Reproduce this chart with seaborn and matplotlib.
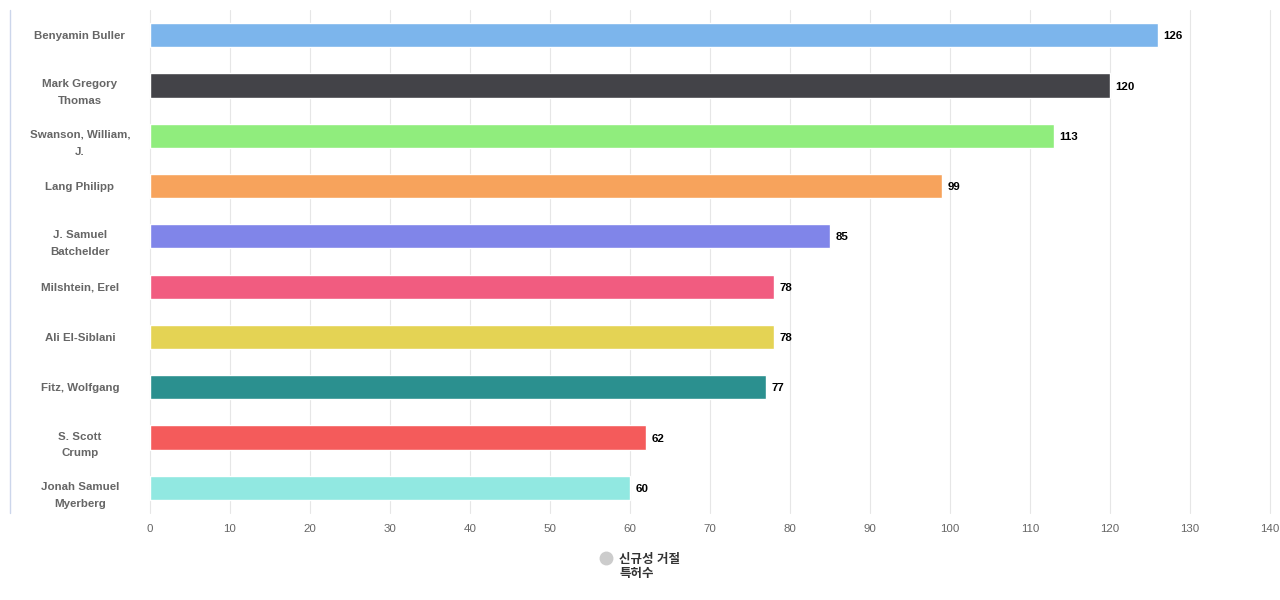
import matplotlib
matplotlib.use("Agg")
import matplotlib.pyplot as plt
import matplotlib.transforms as mtrans
import seaborn as sns
import pandas as pd
from matplotlib.lines import Line2D

names = ["Benyamin Buller", "Mark Gregory\nThomas", "Swanson, William,\nJ.", "Lang Philipp",
         "J. Samuel\nBatchelder", "Milshtein, Erel", "Ali El-Siblani", "Fitz, Wolfgang",
         "S. Scott\nCrump", "Jonah Samuel\nMyerberg"]
values = [126, 120, 113, 99, 85, 78, 78, 77, 62, 60]
colors = ["#7cb5ec", "#434348", "#90ed7d", "#f7a35c", "#8085e9", "#f15c80", "#e4d354",
          "#2b908f", "#f45b5b", "#91e8e1"]
xticks = list(range(0, 141, 10))
legend_label = "신규성 거절\n특허수"

sns.set_style("white")
plt.rcParams['font.family'] = ['Liberation Sans', 'Noto Sans CJK KR', 'DejaVu Sans']

df = pd.DataFrame({"name": names, "value": values})
fig = plt.figure(figsize=(12.8, 6.0), dpi=100)
ax = fig.add_axes([150/1280, 1 - 513/600, 1120/1280, 503/600])

sns.barplot(data=df, y="name", x="value", hue="name", palette=colors, orient="h",
            width=0.48, legend=False, ax=ax, saturation=1)

ax.set_xlim(0, 140)
ax.set_ylim(9.5, -0.5)
ax.set_xticks(xticks)
ax.set_xticklabels([str(t) for t in xticks])
ax.grid(axis="x", color="#e6e6e6", linewidth=0.8)
for gl in ax.get_xgridlines():
    gl.set_clip_on(False)
ax.set_axisbelow(True)
for s in ax.spines.values():
    s.set_visible(False)
ax.set_xlabel("")
ax.set_ylabel("")
ax.tick_params(axis="x", length=0, pad=8, labelsize=8.25, labelcolor="#666666")
ax.tick_params(axis="y", length=0, pad=50.5, labelsize=8.25, labelcolor="#666666")
shift = mtrans.ScaledTranslation(0, -3/100, fig.dpi_scale_trans)
for lab in ax.get_yticklabels():
    lab.set_horizontalalignment("center")
    lab.set_fontweight("bold")
    lab.set_linespacing(1.85)
    if "\n" in lab.get_text():
        lab.set_transform(lab.get_transform() + shift)

for i, v in enumerate(values):
    ax.annotate(str(v), (v, i), xytext=(4, -0.8), textcoords="offset points",
                va="center", ha="left", fontsize=8.25, fontweight="bold", color="black")

fig.add_artist(Line2D([9.5/1280, 9.5/1280], [1 - 10/600, 1 - 513/600], color="#ccd6eb",
                      linewidth=1, transform=fig.transFigure))

# legend
fig.add_artist(Line2D([606/1280], [1 - 558/600], marker="o", linestyle="none", markersize=9,
                      markerfacecolor="#cccccc", markeredgecolor="#cccccc",
                      transform=fig.transFigure))
fig.text(619/1280, 1 - 554/600, legend_label, ha="left", va="top", fontsize=9,
         fontweight="bold", color="#333333", linespacing=1.2)

fig.savefig("out.png", dpi=100)
